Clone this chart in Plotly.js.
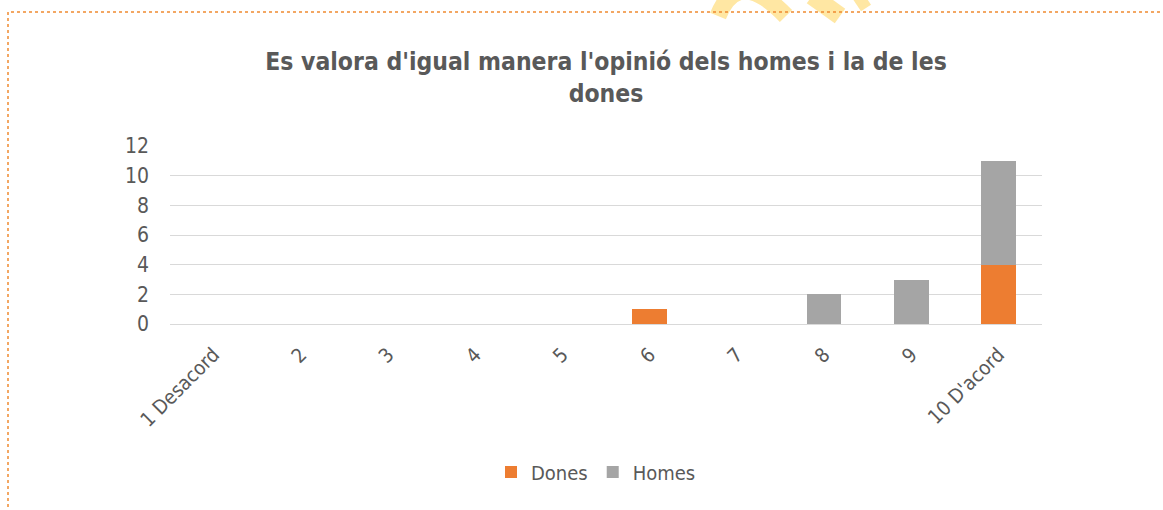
<!DOCTYPE html>
<html>
<head>
<meta charset="utf-8">
<script src="https://cdn.plot.ly/plotly-3.0.1.min.js"></script>
<style>
  html, body { margin: 0; padding: 0; background: #ffffff; }
  #chart { width: 1163px; height: 510px; }
</style>
</head>
<body>
<div id="chart"></div>
<script>
// ---- Data ----
const categories = ["1 Desacord", "2", "3", "4", "5", "6", "7", "8", "9", "10 D'acord"];
const dones = [0, 0, 0, 0, 0, 1, 0, 0, 0, 4];
const homes = [0, 0, 0, 0, 0, 0, 0, 2, 3, 7];
const seriesNames = ["Dones", "Homes"];
const yTicks = [0, 2, 4, 6, 8, 10, 12];
const titleText = "Es valora d'igual manera l'opinió dels homes i la de les<br>dones";

// ---- Styling ----
const FONT = "'DejaVu Sans Condensed', 'Liberation Sans Narrow', 'Roboto', sans-serif";
const TEXT_COLOR = "#595959";
const COLORS = ["#ED7D31", "#A5A5A5"];

const W = 1163, H = 510;
const M = { l: 170, r: 121, t: 146, b: 186 };
const PW = W - M.l - M.r, PH = H - M.t - M.b;
// convert page pixels to paper coordinates (for decorations only)
const px = x => (x - M.l) / PW;
const py = y => (H - M.b - y) / PH;

const traces = [
  { type: "bar", name: seriesNames[0], x: categories, y: dones,
    marker: { color: COLORS[0], line: { width: 0 } }, hoverinfo: "x+y+name" },
  { type: "bar", name: seriesNames[1], x: categories, y: homes,
    marker: { color: COLORS[1], line: { width: 0 } }, hoverinfo: "x+y+name" }
];

const WM = "#FFE7A3";
const shapes = [
  // dotted orange frame around the chart
  { type: "rect", xref: "paper", yref: "paper",
    x0: px(8), x1: px(1170), y0: py(520), y1: py(12),
    line: { color: "#F08A30", width: 1.5, dash: "dot" }, fillcolor: "rgba(0,0,0,0)", layer: "above" },
  // faint yellow watermark fragments at the top
  { type: "path", xref: "paper", yref: "paper",
    path: `M ${px(718)} ${py(16)} Q ${px(738)} ${py(-34)} ${px(786)} ${py(16)}`,
    line: { color: WM, width: 17 }, layer: "below" },
  { type: "line", xref: "paper", yref: "paper",
    x0: px(812), y0: py(-4), x1: px(840), y1: py(16),
    line: { color: WM, width: 18 }, layer: "below" },
  { type: "line", xref: "paper", yref: "paper",
    x0: px(858), y0: py(-4), x1: px(866), y1: py(8),
    line: { color: WM, width: 12 }, layer: "below" }
];

const layout = {
  width: W, height: H,
  margin: M,
  paper_bgcolor: "#ffffff",
  plot_bgcolor: "#ffffff",
  font: { family: FONT, color: TEXT_COLOR, size: 20 },
  title: {
    text: titleText,
    font: { family: FONT, size: 24.5, color: TEXT_COLOR, weight: "bold" },
    x: 0.5, xanchor: "center", xref: "paper",
    y: 1 - 70 / H, yanchor: "middle", yref: "container"
  },
  barmode: "stack",
  bargap: 0.6,
  showlegend: true,
  legend: {
    orientation: "h", traceorder: "normal",
    x: px(596), xanchor: "center", y: py(472), yanchor: "middle",
    font: { family: FONT, size: 20, color: TEXT_COLOR },
    itemwidth: 30
  },
  xaxis: {
    type: "category",
    tickangle: -45,
    tickfont: { family: FONT, size: 20, color: TEXT_COLOR },
    showgrid: false, showline: false, zeroline: false, ticks: "",
    ticklabelstandoff: 14
  },
  yaxis: {
    range: [0, 12],
    tickvals: yTicks,
    ticktext: yTicks.map(String),
    tickfont: { family: FONT, size: 21, color: TEXT_COLOR },
    showgrid: true, gridcolor: "#D9D9D9", gridwidth: 1.4,
    zeroline: true, zerolinecolor: "#D9D9D9", zerolinewidth: 1.4,
    showline: false, ticks: "", ticklabelstandoff: 20
  },
  shapes: shapes
};

Plotly.newPlot("chart", traces, layout, { displayModeBar: false });
</script>
</body>
</html>
